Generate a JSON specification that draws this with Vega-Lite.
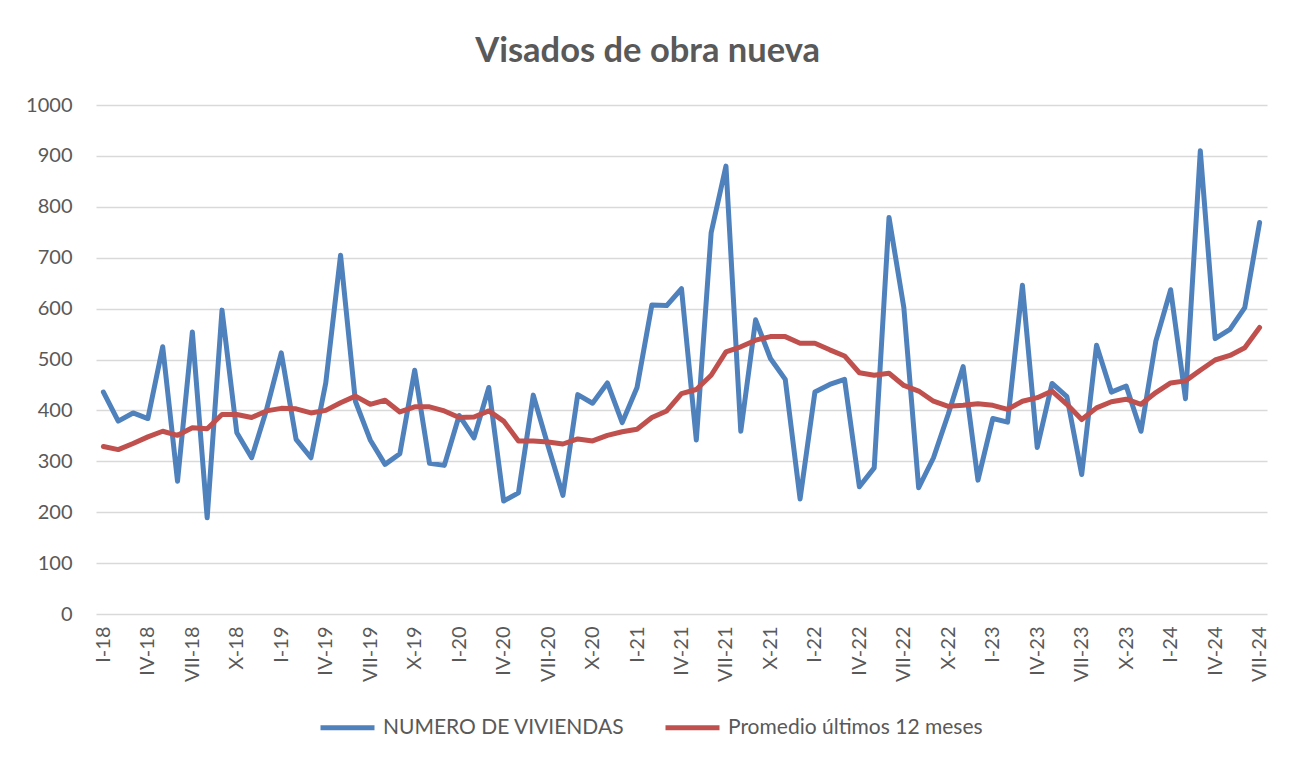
{
  "$schema": "https://vega.github.io/schema/vega-lite/v6.json",
  "width": 1171,
  "height": 509,
  "autosize": {"type": "none"},
  "padding": {"left": 96, "top": 105, "right": 29, "bottom": 148},
  "background": "white",
  "title": {
    "text": "Visados de obra nueva",
    "font": "Lato",
    "fontSize": 34.5,
    "fontWeight": "bold",
    "color": "#595959",
    "anchor": "middle",
    "frame": "bounds",
    "offset": 26
  },
  "config": {
    "view": {"stroke": null},
    "font": "Lato"
  },
  "data": {
    "values": [
      {"mes": "I-18", "viviendas": 436, "promedio": 329},
      {"mes": "II-18", "viviendas": 379, "promedio": 323},
      {"mes": "III-18", "viviendas": 395, "promedio": 335},
      {"mes": "IV-18", "viviendas": 384, "promedio": 348},
      {"mes": "V-18", "viviendas": 525, "promedio": 359},
      {"mes": "VI-18", "viviendas": 261, "promedio": 351},
      {"mes": "VII-18", "viviendas": 554, "promedio": 366},
      {"mes": "VIII-18", "viviendas": 189, "promedio": 364},
      {"mes": "IX-18", "viviendas": 597, "promedio": 392},
      {"mes": "X-18", "viviendas": 356, "promedio": 392},
      {"mes": "XI-18", "viviendas": 307, "promedio": 386},
      {"mes": "XII-18", "viviendas": 401, "promedio": 399},
      {"mes": "I-19", "viviendas": 513, "promedio": 404},
      {"mes": "II-19", "viviendas": 343, "promedio": 403},
      {"mes": "III-19", "viviendas": 307, "promedio": 395},
      {"mes": "IV-19", "viviendas": 454, "promedio": 400},
      {"mes": "V-19", "viviendas": 705, "promedio": 415},
      {"mes": "VI-19", "viviendas": 418, "promedio": 428},
      {"mes": "VII-19", "viviendas": 342, "promedio": 412},
      {"mes": "VIII-19", "viviendas": 294, "promedio": 420},
      {"mes": "IX-19", "viviendas": 315, "promedio": 397},
      {"mes": "X-19", "viviendas": 479, "promedio": 407},
      {"mes": "XI-19", "viviendas": 296, "promedio": 407},
      {"mes": "XII-19", "viviendas": 292, "promedio": 399},
      {"mes": "I-20", "viviendas": 390, "promedio": 386},
      {"mes": "II-20", "viviendas": 346, "promedio": 387},
      {"mes": "III-20", "viviendas": 445, "promedio": 399},
      {"mes": "IV-20", "viviendas": 222, "promedio": 379},
      {"mes": "V-20", "viviendas": 238, "promedio": 340},
      {"mes": "VI-20", "viviendas": 430, "promedio": 340},
      {"mes": "VII-20", "viviendas": 330, "promedio": 338},
      {"mes": "VIII-20", "viviendas": 233, "promedio": 334},
      {"mes": "IX-20", "viviendas": 431, "promedio": 344},
      {"mes": "X-20", "viviendas": 414, "promedio": 340},
      {"mes": "XI-20", "viviendas": 454, "promedio": 351},
      {"mes": "XII-20", "viviendas": 376, "promedio": 358},
      {"mes": "I-21", "viviendas": 445, "promedio": 363},
      {"mes": "II-21", "viviendas": 607, "promedio": 386},
      {"mes": "III-21", "viviendas": 606, "promedio": 399},
      {"mes": "IV-21", "viviendas": 639, "promedio": 433},
      {"mes": "V-21", "viviendas": 342, "promedio": 441},
      {"mes": "VI-21", "viviendas": 749, "promedio": 469},
      {"mes": "VII-21", "viviendas": 880, "promedio": 515},
      {"mes": "VIII-21", "viviendas": 359, "promedio": 525},
      {"mes": "IX-21", "viviendas": 578, "promedio": 538},
      {"mes": "X-21", "viviendas": 502, "promedio": 545},
      {"mes": "XI-21", "viviendas": 461, "promedio": 545},
      {"mes": "XII-21", "viviendas": 226, "promedio": 532},
      {"mes": "I-22", "viviendas": 436, "promedio": 532},
      {"mes": "II-22", "viviendas": 451, "promedio": 519},
      {"mes": "III-22", "viviendas": 461, "promedio": 507},
      {"mes": "IV-22", "viviendas": 250, "promedio": 474},
      {"mes": "V-22", "viviendas": 287, "promedio": 469},
      {"mes": "VI-22", "viviendas": 779, "promedio": 473},
      {"mes": "VII-22", "viviendas": 602, "promedio": 449},
      {"mes": "VIII-22", "viviendas": 248, "promedio": 438},
      {"mes": "IX-22", "viviendas": 307, "promedio": 418},
      {"mes": "X-22", "viviendas": 393, "promedio": 408},
      {"mes": "XI-22", "viviendas": 486, "promedio": 410},
      {"mes": "XII-22", "viviendas": 263, "promedio": 413},
      {"mes": "I-23", "viviendas": 384, "promedio": 410},
      {"mes": "II-23", "viviendas": 377, "promedio": 402},
      {"mes": "III-23", "viviendas": 646, "promedio": 418},
      {"mes": "IV-23", "viviendas": 327, "promedio": 425},
      {"mes": "V-23", "viviendas": 453, "promedio": 438},
      {"mes": "VI-23", "viviendas": 427, "promedio": 412},
      {"mes": "VII-23", "viviendas": 274, "promedio": 382},
      {"mes": "VIII-23", "viviendas": 528, "promedio": 405},
      {"mes": "IX-23", "viviendas": 436, "promedio": 417},
      {"mes": "X-23", "viviendas": 448, "promedio": 422},
      {"mes": "XI-23", "viviendas": 359, "promedio": 412},
      {"mes": "XII-23", "viviendas": 536, "promedio": 435},
      {"mes": "I-24", "viviendas": 637, "promedio": 454},
      {"mes": "II-24", "viviendas": 423, "promedio": 458},
      {"mes": "III-24", "viviendas": 910, "promedio": 479},
      {"mes": "IV-24", "viviendas": 541, "promedio": 499},
      {"mes": "V-24", "viviendas": 559, "promedio": 508},
      {"mes": "VI-24", "viviendas": 602, "promedio": 523},
      {"mes": "VII-24", "viviendas": 769, "promedio": 563}
    ]
  },
  "encoding": {
    "x": {
      "field": "mes",
      "type": "ordinal",
      "sort": null,
      "scale": {"type": "point", "padding": 0.5},
      "axis": {
        "title": null,
        "values": ["I-18","IV-18","VII-18","X-18","I-19","IV-19","VII-19","X-19","I-20","IV-20","VII-20","X-20","I-21","IV-21","VII-21","X-21","I-22","IV-22","VII-22","X-22","I-23","IV-23","VII-23","X-23","I-24","IV-24","VII-24"],
        "labelAngle": -90,
        "labelFont": "Lato",
        "labelFontSize": 20,
        "labelColor": "#595959",
        "labelPadding": 12,
        "ticks": false,
        "domain": false,
        "grid": false,
        "labelOverlap": false
      }
    }
  },
  "layer": [
    {
      "mark": {"type": "line", "strokeWidth": 5, "strokeJoin": "round", "strokeCap": "round"},
      "encoding": {
        "y": {
          "field": "viviendas",
          "type": "quantitative",
          "scale": {"domain": [0, 1000], "nice": false},
          "axis": {
            "title": null,
            "format": "d",
            "values": [0,100,200,300,400,500,600,700,800,900,1000],
            "labelFont": "Lato",
            "labelFontSize": 20,
            "labelColor": "#595959",
            "labelPadding": 24,
            "ticks": false,
            "domain": false,
            "grid": true,
            "gridColor": "#d9d9d9",
            "gridWidth": 1.5
          }
        },
        "color": {
          "datum": "NUMERO DE VIVIENDAS",
          "type": "nominal",
          "scale": {
            "domain": ["NUMERO DE VIVIENDAS", "Promedio últimos 12 meses"],
            "range": ["#4F81BD", "#C0504D"]
          },
          "legend": {
            "title": null,
            "orient": "none",
            "direction": "horizontal",
            "legendX": 222,
            "legendY": 593,
            "padding": 0,
            "symbolType": "stroke",
            "symbolSize": 2916,
            "symbolStrokeWidth": 5,
            "labelFont": "Lato",
            "labelFontSize": 21,
            "labelColor": "#595959",
            "labelOffset": 6,
            "columnPadding": 30,
            "labelLimit": 400
          }
        }
      }
    },
    {
      "mark": {"type": "line", "strokeWidth": 5, "strokeJoin": "round", "strokeCap": "round"},
      "encoding": {
        "y": {"field": "promedio", "type": "quantitative"},
        "color": {"datum": "Promedio últimos 12 meses", "type": "nominal"}
      }
    }
  ]
}
